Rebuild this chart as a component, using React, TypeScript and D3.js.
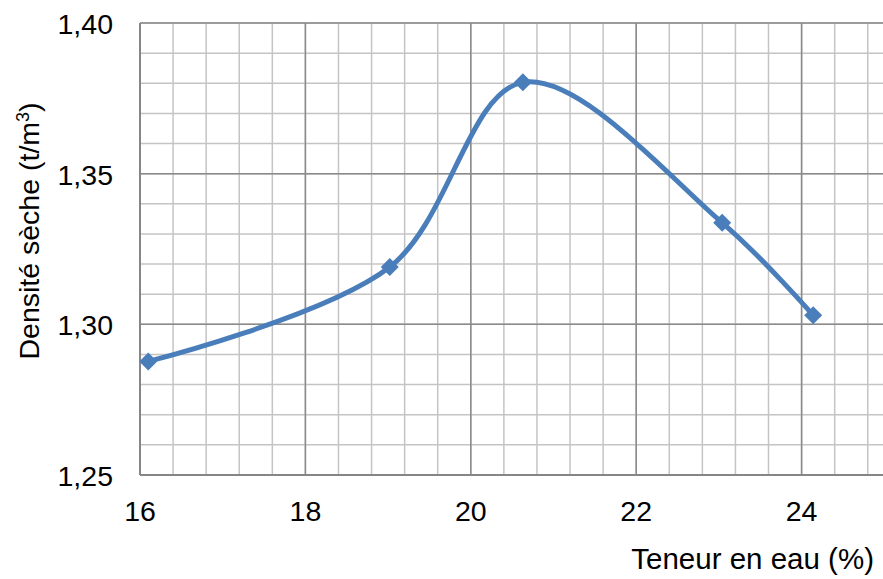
import React from "react";
import * as d3 from "d3";

const waterContent = [16.1, 19.02, 20.63, 23.04, 24.14];
const dryDensity = [1.2877, 1.319, 1.3803, 1.3337, 1.303];
const xTicks = [16, 18, 20, 22, 24];
const yTicks = [1.25, 1.3, 1.35, 1.4];

const W = 883;
const H = 579;
const left = 140;
const top = 23;
const bottom = 475;

export default function App() {
  const x = d3.scaleLinear().domain([16, 26]).range([left, left + 10 * 82.7]);
  const y = d3.scaleLinear().domain([1.25, 1.4]).range([bottom, top]);
  const fmt = (v: number) => v.toFixed(2).replace(".", ",");

  const minorX = d3.range(0, 26).map((i) => 16 + i * 0.4);
  const minorY = d3.range(0, 16).map((i) => 1.25 + i * 0.01);

  const line = d3
    .line<number>()
    .x((_, i) => x(waterContent[i]))
    .y((d) => y(d))
    .curve(d3.curveCatmullRom.alpha(0.5));

  const pts = dryDensity.map((d, i) => [x(waterContent[i]), y(d)]);
  const ds = 9;
  const fs = 28.5;

  return (
    <svg
      width={W}
      height={H}
      style={{ position: "absolute", left: 0, top: 0, fontFamily: "'Liberation Sans', Arial, sans-serif" }}
    >
      <rect width={W} height={H} fill="#fff" />
      {minorX.map((v, i) => (
        <line key={"mx" + i} x1={x(v)} x2={x(v)} y1={top} y2={bottom} stroke="#c4c4c4" strokeWidth={1.5} />
      ))}
      {minorY.map((v, i) => (
        <line key={"my" + i} x1={left} x2={W} y1={y(v)} y2={y(v)} stroke="#c4c4c4" strokeWidth={1.5} />
      ))}
      {xTicks.map((v) => (
        <line key={"Mx" + v} x1={x(v)} x2={x(v)} y1={top} y2={bottom} stroke="#8a8a8a" strokeWidth={1.5} />
      ))}
      {yTicks.map((v) => (
        <line key={"My" + v} x1={left} x2={W} y1={y(v)} y2={y(v)} stroke="#8a8a8a" strokeWidth={1.5} />
      ))}
      <line x1={left} x2={left} y1={top} y2={bottom} stroke="#868686" strokeWidth={2} />
      <line x1={left} x2={W} y1={bottom} y2={bottom} stroke="#868686" strokeWidth={2} />

      {yTicks.map((v) => (
        <text key={"yl" + v} x={113} y={y(v) + 1} dy="0.35em" textAnchor="end" fontSize={fs} fill="#000">
          {fmt(v)}
        </text>
      ))}
      {xTicks.map((v) => (
        <text key={"xl" + v} x={x(v)} y={511} dy="0.35em" textAnchor="middle" fontSize={fs} fill="#000">
          {v}
        </text>
      ))}
      <text x={874} y={559} dy="0.35em" textAnchor="end" fontSize={29.5} fill="#000">
        Teneur en eau (%)
      </text>
      <text
        transform={`translate(29, 231) rotate(-90)`}
        textAnchor="middle"
        dy="0.35em"
        fontSize={fs}
        fill="#000"
      >
        Densité sèche (t/m<tspan dy="-10" fontSize={18}>3</tspan>
        <tspan dy="10">)</tspan>
      </text>

      <path d={line(dryDensity) || ""} fill="none" stroke="#4a7ebb" strokeWidth={5} strokeLinecap="round" />
      {pts.map(([px, py], i) => (
        <path
          key={"m" + i}
          d={`M${px},${py - ds}L${px + ds},${py}L${px},${py + ds}L${px - ds},${py}Z`}
          fill="#4a7ebb"
        />
      ))}
    </svg>
  );
}
